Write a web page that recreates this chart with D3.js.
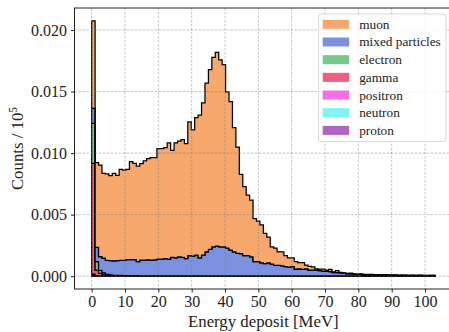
<!DOCTYPE html>
<html>
<head>
<meta charset="utf-8">
<script src="https://cdn.jsdelivr.net/npm/d3@7"></script>
<style>
  body { margin: 0; background: #fff; }
  svg { display: block; }
</style>
</head>
<body>
<div id="chart"></div>
<script>
// histogram bins: 100 bins from 0 to 103 MeV
var binWidth = 1.03;
var nBins = 100;

// per-bin counts / 1e5
var muon = [
    0.00711, 0.00687, 0.00744, 0.00690, 0.00703, 0.00692, 0.00711, 0.00693, 0.00738, 0.00733,
    0.00733, 0.00795, 0.00782, 0.00775, 0.00784, 0.00805, 0.00823, 0.00833, 0.00831, 0.00899,
    0.00899, 0.00902, 0.00945, 0.00870, 0.00935, 0.00941, 0.00957, 0.00935, 0.01085, 0.01025,
    0.01117, 0.01160, 0.01237, 0.01370, 0.01460, 0.01540, 0.01574, 0.01520, 0.01480, 0.01270,
    0.01207, 0.01010, 0.00863, 0.00645, 0.00560, 0.00490, 0.00460, 0.00350, 0.00330, 0.00310,
    0.00245, 0.00210, 0.00140, 0.00140, 0.00110, 0.00115, 0.00090, 0.00075, 0.00070, 0.00060,
    0.00050, 0.00055, 0.00030, 0.00030, 0.00025, 0.00012, 0.00013, 0.00018, 0.00010, 0.00017,
    0.00005, 0.00015, 0.00004, 0.00003, 0.00003, 0.00005, 0.00003, 0.00002, 0.00004, 0.00003,
    0.00002, 0.00003, 0.00001, 0.00002, 0.00002, 0.00001, 0.00002, 0.00001, 0.00002, 0.00001,
    0.00001, 0.00002, 0.00001, 0.00001, 0.00001, 0.00001, 0.00001, 0.00001, 0.00001, 0.00001
];
var mixed = [
    0.00122, 0.00117, 0.00111, 0.00120, 0.00114, 0.00116, 0.00118, 0.00120, 0.00123, 0.00123,
    0.00130, 0.00130, 0.00130, 0.00115, 0.00128, 0.00128, 0.00130, 0.00128, 0.00130, 0.00135,
    0.00135, 0.00140, 0.00135, 0.00150, 0.00145, 0.00154, 0.00150, 0.00140, 0.00165, 0.00160,
    0.00169, 0.00146, 0.00169, 0.00196, 0.00216, 0.00236, 0.00242, 0.00236, 0.00236, 0.00226,
    0.00209, 0.00196, 0.00183, 0.00181, 0.00166, 0.00166, 0.00156, 0.00116, 0.00116, 0.00106,
    0.00101, 0.00106, 0.00096, 0.00086, 0.00086, 0.00081, 0.00076, 0.00071, 0.00076, 0.00056,
    0.00058, 0.00053, 0.00058, 0.00048, 0.00048, 0.00046, 0.00043, 0.00038, 0.00038, 0.00036,
    0.00028, 0.00028, 0.00026, 0.00022, 0.00017, 0.00017, 0.00013, 0.00012, 0.00013, 0.00010,
    0.00010, 0.00009, 0.00010, 0.00008, 0.00007, 0.00009, 0.00006, 0.00007, 0.00006, 0.00005,
    0.00006, 0.00005, 0.00004, 0.00005, 0.00004, 0.00005, 0.00004, 0.00003, 0.00004, 0.00004
];
var electron = [
    0.00325, 0.00068, 0.00026, 0.00015, 0.00007, 0.00004, 0.00003, 0.00003, 0.00002, 0.00002,
    0.00002, 0.00002, 0.00002, 0.00002, 0.00001, 0.00001, 0.00001, 0.00001, 0.00001, 0.00001,
    0.00001, 0.00001, 0.00001, 0.00001, 0.00001, 0.00001, 0.00001, 0.00001, 0.00001, 0.00001,
    0.00001, 0.00001, 0.00001, 0.00001, 0.00001, 0.00001, 0.00001, 0.00001, 0.00001, 0.00001,
    0.00001, 0.00001, 0.00001, 0.00001, 0.00001, 0.00001, 0.00001, 0.00001, 0.00001, 0.00001,
    0.00001, 0.00001, 0.00001, 0.00001, 0.00001, 0.00001, 0.00001, 0.00001, 0.00001, 0.00001,
    0.00001, 0.00001, 0.00001, 0.00001, 0.00001, 0.00001, 0.00001, 0.00001, 0.00001, 0.00001,
    0.00001, 0.00001, 0.00001, 0.00001, 0.00001, 0.00001, 0.00001, 0.00001, 0.00001, 0.00001,
    0.00001, 0.00001, 0.00001, 0.00001, 0.00001, 0.00001, 0.00001, 0.00001, 0.00001, 0.00001,
    0.00001, 0.00001, 0.00001, 0.00001, 0.00001, 0.00001, 0.00001, 0.00001, 0.00001, 0.00001
];
var gamma = [
    0.00900, 0.00045, 0.00020, 0.00010, 0.00006, 0.00005, 0.00004, 0.00004, 0.00004, 0.00003,
    0.00003, 0.00003, 0.00003, 0.00002, 0.00002, 0.00002, 0.00002, 0.00002, 0.00002, 0.00002,
    0.00002, 0.00002, 0.00002, 0.00002, 0.00002, 0.00002, 0.00002, 0.00002, 0.00002, 0.00002,
    0.00002, 0.00002, 0.00001, 0.00001, 0.00001, 0.00001, 0.00001, 0.00001, 0.00001, 0.00001,
    0.00001, 0.00001, 0.00001, 0.00001, 0.00001, 0.00001, 0.00001, 0.00001, 0.00001, 0.00001,
    0.00001, 0.00001, 0.00001, 0.00001, 0.00001, 0.00001, 0.00001, 0.00001, 0.00001, 0.00001,
    0.00001, 0.00001, 0.00001, 0.00001, 0.00001, 0.00001, 0.00001, 0.00001, 0.00001, 0.00001,
    0.00001, 0.00001, 0.00001, 0.00001, 0.00001, 0.00001, 0.00001, 0.00001, 0.00001, 0.00001,
    0.00001, 0.00001, 0.00001, 0.00001, 0.00001, 0.00001, 0.00001, 0.00001, 0.00001, 0.00001,
    0.00001, 0.00001, 0.00001, 0.00001, 0.00001, 0.00001, 0.00001, 0.00001, 0.00001, 0.00001
];
var positron = [
    0.00010, 0.00003, 0.00002, 0.00001, 0.00001, 0.00001, 0, 0, 0, 0,
    0, 0, 0, 0, 0, 0, 0, 0, 0, 0,
    0, 0, 0, 0, 0, 0, 0, 0, 0, 0,
    0, 0, 0, 0, 0, 0, 0, 0, 0, 0,
    0, 0, 0, 0, 0, 0, 0, 0, 0, 0,
    0, 0, 0, 0, 0, 0, 0, 0, 0, 0,
    0, 0, 0, 0, 0, 0, 0, 0, 0, 0,
    0, 0, 0, 0, 0, 0, 0, 0, 0, 0,
    0, 0, 0, 0, 0, 0, 0, 0, 0, 0,
    0, 0, 0, 0, 0, 0, 0, 0, 0, 0
];
var neutron = [
    0.00005, 0.00001, 0, 0, 0, 0, 0, 0, 0, 0,
    0, 0, 0, 0, 0, 0, 0, 0, 0, 0,
    0, 0, 0, 0, 0, 0, 0, 0, 0, 0,
    0, 0, 0, 0, 0, 0, 0, 0, 0, 0,
    0, 0, 0, 0, 0, 0, 0, 0, 0, 0,
    0, 0, 0, 0, 0, 0, 0, 0, 0, 0,
    0, 0, 0, 0, 0, 0, 0, 0, 0, 0,
    0, 0, 0, 0, 0, 0, 0, 0, 0, 0,
    0, 0, 0, 0, 0, 0, 0, 0, 0, 0,
    0, 0, 0, 0, 0, 0, 0, 0, 0, 0
];
var proton = [
    0.00002, 0.00001, 0, 0, 0, 0, 0, 0, 0, 0,
    0, 0, 0, 0, 0, 0, 0, 0, 0, 0,
    0, 0, 0, 0, 0, 0, 0, 0, 0, 0,
    0, 0, 0, 0, 0, 0, 0, 0, 0, 0,
    0, 0, 0, 0, 0, 0, 0, 0, 0, 0,
    0, 0, 0, 0, 0, 0, 0, 0, 0, 0,
    0, 0, 0, 0, 0, 0, 0, 0, 0, 0,
    0, 0, 0, 0, 0, 0, 0, 0, 0, 0,
    0, 0, 0, 0, 0, 0, 0, 0, 0, 0,
    0, 0, 0, 0, 0, 0, 0, 0, 0, 0
];

// stack order bottom -> top
var seriesNames = ["proton", "neutron", "positron", "gamma", "electron", "mixed particles", "muon"];
var seriesValues = [proton, neutron, positron, gamma, electron, mixed, muon];
var seriesColors = ["#b263c8", "#7ef5f2", "#f46eeb", "#ef5f80", "#76c98a", "#7b91e0", "#f6a86d"];

var xTicks = [0, 10, 20, 30, 40, 50, 60, 70, 80, 90, 100];
var yTicks = [0, 0.005, 0.010, 0.015, 0.020];

var serif = "Liberation Serif";
var width = 449, height = 332;
var plot = { left: 74.5, right: 452.2, top: 8, bottom: 289 };

var svg = d3.select("#chart").append("svg")
    .attr("width", width)
    .attr("height", height)
    .attr("font-family", serif);

var xScale = d3.scaleLinear()
    .domain([-5.15, 108.15])
    .range([plot.left, plot.right]);
var yScale = d3.scaleLinear()
    .domain([-0.00104, 0.02179])
    .range([plot.bottom, plot.top]);

// build table for d3.stack; extra point at right edge repeats last bin
var table = d3.range(nBins + 1).map(function (i) {
    var row = { edge: i * binWidth };
    var k = Math.min(i, nBins - 1);
    seriesNames.forEach(function (name, j) {
        row[name] = seriesValues[j][k];
    });
    return row;
});

var stacked = d3.stack().keys(seriesNames)(table);

var area = d3.area()
    .curve(d3.curveStepAfter)
    .x(function (d) { return xScale(d.data.edge); })
    .y0(function (d) { return yScale(d[0]); })
    .y1(function (d) { return yScale(d[1]); });

svg.append("clipPath").attr("id", "plotClip")
    .append("rect")
    .attr("x", plot.left).attr("y", plot.top)
    .attr("width", plot.right - plot.left).attr("height", plot.bottom - plot.top);

var layers = svg.append("g").attr("clip-path", "url(#plotClip)");
layers.selectAll("path")
    .data(stacked)
    .enter()
    .append("path")
    .attr("d", area)
    .attr("fill", function (d, i) { return seriesColors[i]; })
    .attr("stroke", "#000")
    .attr("stroke-width", 1.25)
    .attr("stroke-linejoin", "miter");

// grid on top of bars (dashed)
var grid = svg.append("g");
grid.selectAll(".gx")
    .data(xTicks)
    .enter().append("line")
    .attr("x1", function (d) { return xScale(d); })
    .attr("x2", function (d) { return xScale(d); })
    .attr("y1", plot.top).attr("y2", plot.bottom)
    .attr("stroke", "#777").attr("stroke-opacity", 0.55)
    .attr("stroke-width", 0.8).attr("stroke-dasharray", "2.5,1.5");
grid.selectAll(".gy")
    .data(yTicks)
    .enter().append("line")
    .attr("y1", function (d) { return yScale(d); })
    .attr("y2", function (d) { return yScale(d); })
    .attr("x1", plot.left).attr("x2", plot.right)
    .attr("stroke", "#777").attr("stroke-opacity", 0.55)
    .attr("stroke-width", 0.8).attr("stroke-dasharray", "2.5,1.5");

// frame
svg.append("rect")
    .attr("x", plot.left).attr("y", plot.top)
    .attr("width", plot.right - plot.left).attr("height", plot.bottom - plot.top)
    .attr("fill", "none").attr("stroke", "#222").attr("stroke-width", 1);

// axes
var xAxis = svg.append("g")
    .attr("transform", "translate(0," + plot.bottom + ")")
    .call(d3.axisBottom(xScale).tickValues(xTicks).tickSize(3.5).tickPadding(3).tickSizeOuter(0));
var yAxis = svg.append("g")
    .attr("transform", "translate(" + plot.left + ",0)")
    .call(d3.axisLeft(yScale).tickValues(yTicks).tickFormat(d3.format(".3f")).tickSize(3.5).tickPadding(4).tickSizeOuter(0));
[xAxis, yAxis].forEach(function (ax) {
    ax.attr("font-family", serif).attr("font-size", 16);
    ax.select(".domain").remove();
    ax.selectAll("text").attr("fill", "#222").attr("font-family", serif);
    ax.selectAll("line").attr("stroke", "#222");
});

// axis labels
svg.append("text")
    .attr("x", (plot.left + plot.right) / 2)
    .attr("y", 327)
    .attr("text-anchor", "middle")
    .attr("fill", "#222")
    .attr("font-family", serif)
    .attr("font-size", 16.8)
    .text("Energy deposit [MeV]");

var yLabel = svg.append("text")
    .attr("transform", "translate(23," + ((plot.top + plot.bottom) / 2) + ") rotate(-90)")
    .attr("text-anchor", "middle")
    .attr("fill", "#222")
    .attr("font-family", serif)
    .attr("font-size", 16.8);
yLabel.append("tspan").text("Counts / 10");
yLabel.append("tspan").attr("dy", -6).attr("font-size", 11.5).text("5");

// legend (top of stack listed first)
var legendItems = seriesNames.map(function (n, i) {
    return { name: n, color: seriesColors[i] };
}).reverse();

var legend = svg.append("g");
legend.append("rect")
    .attr("x", 318.5).attr("y", 14)
    .attr("width", 127.5).attr("height", 127.5)
    .attr("rx", 3).attr("ry", 3)
    .attr("fill", "#fff").attr("fill-opacity", 0.85)
    .attr("stroke", "#d8d8d8").attr("stroke-width", 1);

var rows = legend.selectAll(".row")
    .data(legendItems)
    .enter().append("g")
    .attr("transform", function (d, i) { return "translate(322.7," + (24.3 + i * 17.68) + ")"; });
rows.append("rect")
    .attr("x", 0).attr("y", -4.5)
    .attr("width", 26.5).attr("height", 9)
    .attr("fill", function (d) { return d.color; });
rows.append("text")
    .attr("x", 36.5).attr("y", 4.5)
    .attr("fill", "#222")
    .attr("font-family", serif)
    .attr("font-size", 13.3)
    .text(function (d) { return d.name; });
</script>
</body>
</html>
